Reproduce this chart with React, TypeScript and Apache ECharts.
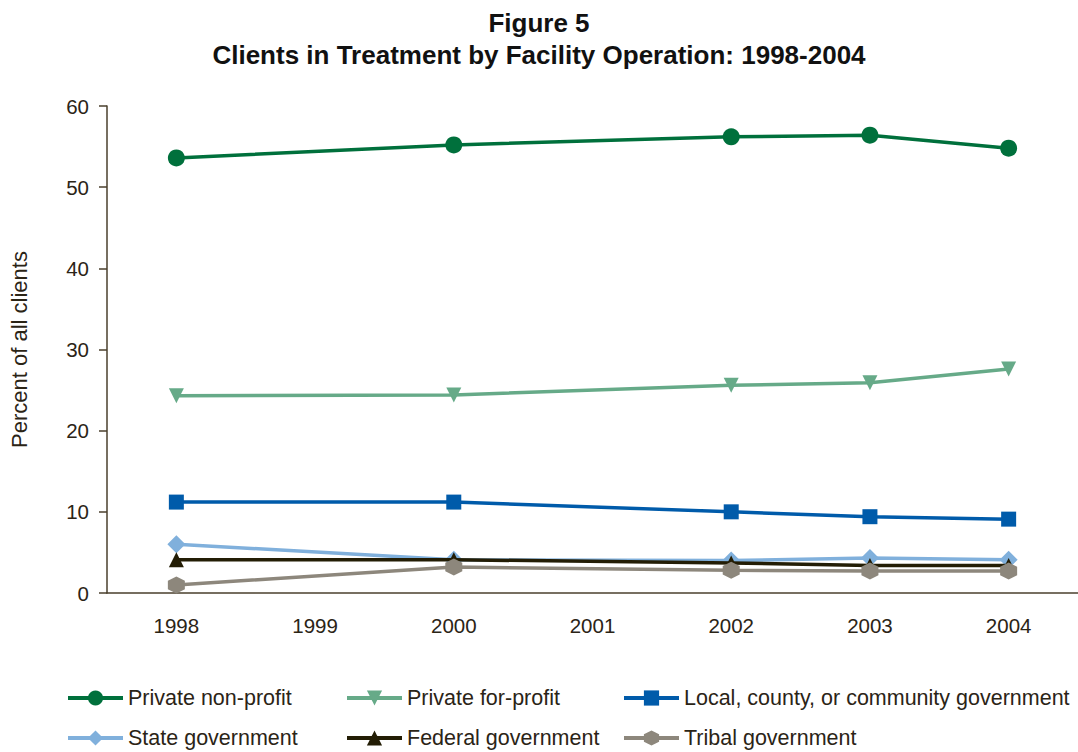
import React, { useEffect, useRef } from "react";
import * as echarts from "echarts";

const years = ["1998", "1999", "2000", "2001", "2002", "2003", "2004"];
const privateNonProfit = [53.6, null, 55.2, null, 56.2, 56.4, 54.8];
const privateForProfit = [24.3, null, 24.4, null, 25.6, 25.9, 27.6];
const localGov = [11.2, null, 11.2, null, 10.0, 9.4, 9.1];
const stateGov = [6.0, null, 4.1, null, 4.0, 4.3, 4.1];
const federalGov = [4.1, null, 4.1, null, 3.7, 3.4, 3.4];
const tribalGov = [1.0, null, 3.2, null, 2.8, 2.7, 2.7];

const seriesNames = [
  "Private non-profit",
  "Private for-profit",
  "Local, county, or community government",
  "State government",
  "Federal government",
  "Tribal government",
];

const HEX = "path://M0,-1L0.866,-0.5L0.866,0.5L0,1L-0.866,0.5L-0.866,-0.5Z";

export default function App() {
  const ref = useRef<HTMLDivElement>(null);
  useEffect(() => {
    if (!ref.current) return;
    const chart = echarts.init(ref.current, null, { renderer: "svg" });
    const textColor = "#2b2416";
    const font = "'Liberation Sans', Arial, Helvetica, sans-serif";
    const defs = [
      { data: privateNonProfit, color: "#00703c", symbol: "circle", size: 17, rotate: 0 },
      { data: privateForProfit, color: "#66aa88", symbol: "triangle", size: 15, rotate: 180 },
      { data: localGov, color: "#005baa", symbol: "rect", size: 15, rotate: 0 },
      { data: stateGov, color: "#80b0dc", symbol: "diamond", size: 18, rotate: 0 },
      { data: federalGov, color: "#231d05", symbol: "triangle", size: 15, rotate: 0 },
      { data: tribalGov, color: "#8d877c", symbol: HEX, size: 17, rotate: 0 },
    ];
    const legendPos = [
      { left: 66, top: 687 },
      { left: 345, top: 687 },
      { left: 622, top: 687 },
      { left: 66, top: 727 },
      { left: 345, top: 727 },
      { left: 622, top: 727 },
    ];
    chart.setOption({
      animation: false,
      backgroundColor: "#ffffff",
      title: {
        text: "Figure 5\nClients in Treatment by Facility Operation: 1998-2004",
        left: "center",
        top: 2,
        textStyle: {
          fontFamily: font,
          fontSize: 26,
          fontWeight: "bold",
          color: "#111111",
          lineHeight: 32,
        },
      },
      legend: defs.map((d, i) => ({
        data: [seriesNames[i]],
        left: legendPos[i].left,
        top: legendPos[i].top,
        itemWidth: 55,
        itemHeight: 19,
        itemGap: 8,
        padding: 0,
        lineStyle: { width: 4 },
        textStyle: { fontFamily: font, fontSize: 21.5, color: textColor },
        selectedMode: false,
      })),
      grid: { left: 106, right: 0, top: 106, bottom: 159, containLabel: false },
      xAxis: {
        type: "category",
        data: years,
        boundaryGap: true,
        axisLine: { lineStyle: { color: "#4a3f2c", width: 1.5 } },
        axisTick: { alignWithLabel: true, length: 8, lineStyle: { color: "#4a3f2c", width: 1.5 } },
        axisLabel: { fontFamily: font, fontSize: 20.5, color: textColor, margin: 22 },
        splitLine: { show: false },
      },
      yAxis: {
        type: "value",
        min: 0,
        max: 60,
        interval: 10,
        name: "Percent of all clients",
        nameLocation: "middle",
        nameRotate: 90,
        nameGap: 77,
        nameTextStyle: { fontFamily: font, fontSize: 22, color: textColor },
        axisLine: { show: true, lineStyle: { color: "#4a3f2c", width: 1.5 } },
        axisTick: { show: true, length: 8, lineStyle: { color: "#4a3f2c", width: 1.5 } },
        axisLabel: { fontFamily: font, fontSize: 20.5, color: textColor, margin: 18 },
        splitLine: { show: false },
      },
      series: defs.map((d, i) => ({
        name: seriesNames[i],
        type: "line",
        data: d.data,
        connectNulls: true,
        symbol: d.symbol,
        symbolSize: d.size,
        symbolRotate: d.rotate,
        showAllSymbol: true,
        lineStyle: { color: d.color, width: 3.5 },
        itemStyle: { color: d.color, borderWidth: 0 },
        z: 2 + i,
      })),
    });
    return () => chart.dispose();
  }, []);
  return (
    <div
      ref={ref}
      style={{ position: "fixed", left: 0, top: 0, width: 1078, height: 752 }}
    />
  );
}
